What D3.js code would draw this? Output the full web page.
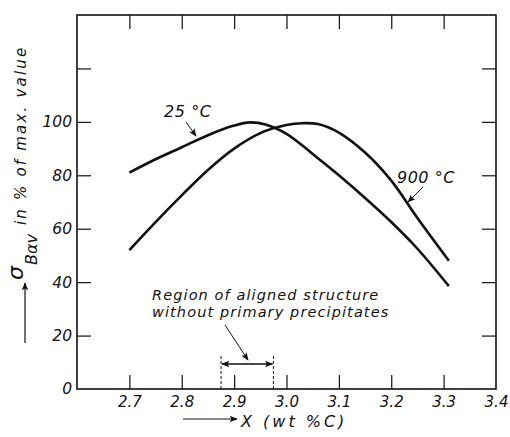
<!DOCTYPE html>
<html>
<head>
<meta charset="utf-8">
<script src="https://cdn.jsdelivr.net/npm/d3@7"></script>
<style>
  body { margin: 0; background: white; }
  text { font-family: "DejaVu Sans", sans-serif; font-style: italic; fill: #111; }
</style>
</head>
<body>
<div id="chart"></div>
<script>
// data
const xTicks = [2.7, 2.8, 2.9, 3.0, 3.1, 3.2, 3.3, 3.4]
const yTicks = [0, 20, 40, 60, 80, 100]
const yMinor = [120, 140]

const curve25 = [
    [2.70, 81], [2.75, 86], [2.80, 90.5], [2.85, 95], [2.90, 98.6], [2.93, 99.8],
    [2.96, 99], [3.00, 95.5], [3.05, 88], [3.10, 80], [3.15, 71.5],
    [3.20, 62.5], [3.25, 52.5], [3.31, 38.5]
]
const curve900 = [
    [2.70, 52], [2.75, 62.5], [2.80, 72.5], [2.85, 82], [2.90, 90], [2.95, 95.8],
    [3.00, 98.8], [3.03, 99.5], [3.06, 99.2], [3.10, 96], [3.15, 88.5],
    [3.20, 78], [3.25, 64], [3.31, 48]
]
const region = [2.875, 2.975]

const width = 510, height = 437
const plotLeft = 77, plotRight = 496, plotTop = 15, plotBottom = 389
const tickLen = 14
const font = "DejaVu Sans, sans-serif"

const svg = d3.select("#chart").append("svg")
    .attr("width", width)
    .attr("height", height)

const defs = svg.append("defs")
defs.append("marker")
    .attr("id", "head")
    .attr("viewBox", "0 0 10 10")
    .attr("refX", 9)
    .attr("refY", 5)
    .attr("markerWidth", 10)
    .attr("markerHeight", 8)
    .attr("markerUnits", "userSpaceOnUse")
    .attr("orient", "auto-start-reverse")
    .append("path")
    .attr("d", "M0,1 L10,5 L0,9 L2,5 Z")
    .attr("fill", "#111")

const x = d3.scaleLinear().domain([2.6, 3.4]).range([plotLeft, plotRight])
const y = d3.scaleLinear().domain([0, 140]).range([plotBottom, plotTop])

// frame
svg.append("rect")
    .attr("x", plotLeft).attr("y", plotTop)
    .attr("width", plotRight - plotLeft).attr("height", plotBottom - plotTop)
    .attr("fill", "none")
    .attr("stroke", "#111")
    .attr("stroke-width", 1.6)

// bottom axis with labels
const xAxis = svg.append("g")
    .attr("transform", "translate(0," + plotBottom + ")")
    .call(d3.axisBottom(x).tickValues(xTicks).tickSize(-tickLen).tickPadding(18).tickFormat(d3.format(".1f")))
xAxis.select(".domain").remove()
xAxis.selectAll("line").filter(d => d === 3.4).remove()
xAxis.selectAll("line").attr("stroke", "#111").attr("stroke-width", 1.2)
xAxis.selectAll("text").attr("font-size", 15).attr("dy", 0).attr("fill", "#111")
    .style("font-family", font)

// top ticks
const xTop = svg.append("g")
    .attr("transform", "translate(0," + plotTop + ")")
    .call(d3.axisTop(x).tickValues(xTicks.slice(0, -1)).tickSize(-tickLen).tickFormat(""))
xTop.select(".domain").remove()
xTop.selectAll("line").attr("stroke", "#111").attr("stroke-width", 1.2)

// left axis with labels
const yAxis = svg.append("g")
    .attr("transform", "translate(" + plotLeft + ",0)")
    .call(d3.axisLeft(y).tickValues(yTicks.concat(yMinor)).tickSize(-tickLen).tickPadding(5)
        .tickFormat(d => yTicks.includes(d) ? d : ""))
yAxis.select(".domain").remove()
yAxis.selectAll("line").filter(d => d === 0 || d === 140).remove()
yAxis.selectAll("line").attr("stroke", "#111").attr("stroke-width", 1.2)
yAxis.selectAll("text").attr("font-size", 15.5).attr("fill", "#111")
    .style("font-family", font)

// right ticks
const yRight = svg.append("g")
    .attr("transform", "translate(" + plotRight + ",0)")
    .call(d3.axisRight(y).tickValues([20, 40, 60, 80, 100, 120]).tickSize(-tickLen).tickFormat(""))
yRight.select(".domain").remove()
yRight.selectAll("line").attr("stroke", "#111").attr("stroke-width", 1.2)

// curves
const line = d3.line()
    .x(d => x(d[0]))
    .y(d => y(d[1]))
    .curve(d3.curveCatmullRom.alpha(0.5))

svg.selectAll("path.curve")
    .data([curve25, curve900])
    .enter().append("path")
    .attr("class", "curve")
    .attr("d", line)
    .attr("fill", "none")
    .attr("stroke", "#111")
    .attr("stroke-width", 2.6)

// curve labels
svg.append("text")
    .attr("x", 164).attr("y", 117)
    .attr("font-size", 16)
    .attr("letter-spacing", 0.6)
    .text("25 °C")
svg.append("line")
    .attr("x1", 186).attr("y1", 122)
    .attr("x2", 196).attr("y2", 136)
    .attr("stroke", "#111").attr("stroke-width", 1)
    .attr("marker-end", "url(#head)")

svg.append("text")
    .attr("x", 397).attr("y", 183)
    .attr("font-size", 16)
    .attr("letter-spacing", 0.5)
    .text("900 °C")
svg.append("line")
    .attr("x1", 423).attr("y1", 187)
    .attr("x2", 408).attr("y2", 202)
    .attr("stroke", "#111").attr("stroke-width", 1)
    .attr("marker-end", "url(#head)")

// region of aligned structure
const note = svg.append("text").attr("font-size", 14.5).attr("letter-spacing", 1.1)
note.append("tspan").attr("x", 152).attr("y", 300).text("Region of aligned structure")
note.append("tspan").attr("x", 152).attr("y", 317).text("without primary precipitates")

svg.append("line")
    .attr("x1", 225).attr("y1", 325)
    .attr("x2", 248).attr("y2", 360)
    .attr("stroke", "#111").attr("stroke-width", 1)
    .attr("marker-end", "url(#head)")

svg.selectAll("line.region")
    .data(region)
    .enter().append("line")
    .attr("class", "region")
    .attr("x1", d => x(d)).attr("x2", d => x(d))
    .attr("y1", 356).attr("y2", plotBottom)
    .attr("stroke", "#111").attr("stroke-width", 1)
    .attr("stroke-dasharray", "3,2")

svg.append("line")
    .attr("x1", x(region[0]) + 1).attr("y1", 364)
    .attr("x2", x(region[1]) - 1).attr("y2", 364)
    .attr("stroke", "#111").attr("stroke-width", 1.3)
    .attr("marker-start", "url(#head)")
    .attr("marker-end", "url(#head)")

// x axis title
svg.append("line")
    .attr("x1", 183).attr("y1", 419)
    .attr("x2", 237).attr("y2", 419)
    .attr("stroke", "#111").attr("stroke-width", 1.2)
    .attr("marker-end", "url(#head)")
svg.append("text")
    .attr("x", 241).attr("y", 427)
    .attr("font-size", 16)
    .attr("letter-spacing", 3)
    .text("X (wt %C)")

// y axis title
svg.append("line")
    .attr("x1", 25).attr("y1", 343)
    .attr("x2", 25).attr("y2", 283)
    .attr("stroke", "#111").attr("stroke-width", 1.2)
    .attr("marker-end", "url(#head)")
const yTitle = svg.append("text")
    .attr("transform", "translate(23,280) rotate(-90)")
yTitle.append("tspan").attr("font-size", 22).text("σ")
yTitle.append("tspan").attr("dy", 14).attr("dx", 1).attr("font-size", 16).text("Bαv")
yTitle.append("tspan").attr("dy", -11).attr("dx", 9).attr("font-size", 15)
    .attr("letter-spacing", 2.2).text("in % of  max. value")
</script>
</body>
</html>
